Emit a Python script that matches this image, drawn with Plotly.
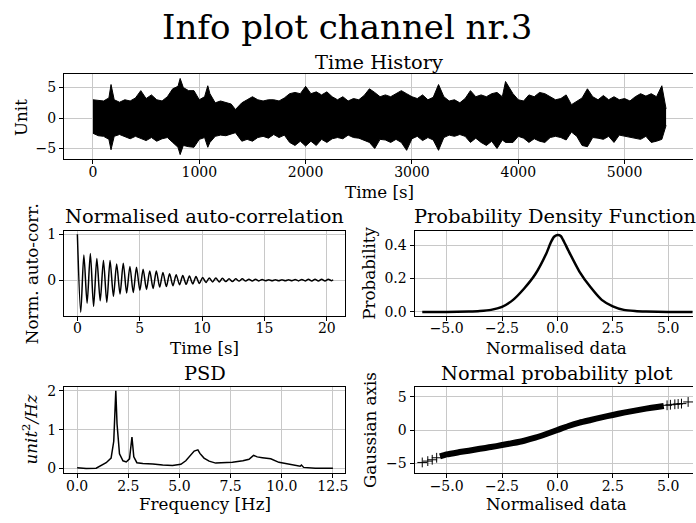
import plotly.graph_objects as go

W, H = 696, 523
FONT = "DejaVu Serif"

# ---------------- data ----------------
# Time history: envelope of the dense signal
th_t = [0, 50, 100, 150, 170, 200, 250, 300, 350, 400, 450, 500, 550, 600, 650, 700, 750, 800, 820, 850,
        900, 950, 1000, 1050, 1080, 1100, 1150, 1200, 1250, 1300, 1340, 1400, 1450, 1500, 1550, 1600, 1650,
        1700, 1750, 1800, 1850, 1900, 1950, 2000, 2050, 2100, 2150, 2200, 2250, 2300, 2350, 2400, 2450,
        2500, 2550, 2600, 2650, 2700, 2750, 2800, 2850, 2900, 2950, 3000, 3050, 3100, 3150, 3200, 3250,
        3300, 3350, 3400, 3450, 3500, 3550, 3600, 3650, 3700, 3750, 3800, 3850, 3880, 3950, 4000, 4050,
        4100, 4150, 4200, 4250, 4300, 4350, 4400, 4450, 4500, 4550, 4600, 4650, 4700, 4750, 4800, 4850,
        4900, 4950, 5000, 5050, 5100, 5150, 5200, 5250, 5300, 5350, 5390]
th_hi = [3.0, 2.9, 2.8, 3.3, 5.5, 3.0, 2.6, 3.0, 2.8, 3.3, 4.5, 3.2, 3.8, 3.0, 2.8, 3.5, 4.8, 5.2, 6.5, 5.0,
         4.5, 4.5, 3.0, 3.5, 5.3, 4.0, 2.5, 2.8, 2.5, 2.3, 1.4, 2.5, 3.0, 3.5, 3.0, 2.8, 3.0,
         3.0, 2.8, 3.3, 4.0, 4.2, 4.0, 5.2, 4.0, 4.3, 3.8, 4.3, 3.5, 3.0, 3.5, 2.8, 3.2,
         3.0, 3.7, 4.8, 4.2, 3.5, 3.8, 3.5, 4.0, 4.5, 4.0, 3.5, 3.2, 3.8, 3.0, 3.4, 5.5,
         3.5, 2.8, 3.0, 2.5, 3.2, 4.5, 3.5, 3.8, 3.5, 4.0, 4.2, 3.5, 6.0, 4.0, 3.0, 2.8,
         3.8, 3.5, 4.2, 4.0, 3.5, 3.0, 3.2, 3.8, 2.2, 2.8, 3.3, 4.8, 3.5, 3.0, 3.7, 3.0,
         3.5, 3.0, 3.2, 2.8, 3.5, 4.0, 3.6, 4.0, 3.5, 5.3, 1.5]
th_lo = [-2.5, -2.9, -3.0, -3.5, -5.2, -3.0, -2.7, -3.0, -3.4, -3.0, -3.3, -3.7, -3.2, -3.8, -3.4, -3.2, -4.0, -4.8, -6.0, -4.5,
         -4.7, -4.8, -3.5, -3.2, -4.8, -4.0, -3.0, -2.8, -2.9, -2.6, -2.4, -3.8, -3.5, -3.8, -3.2, -3.0, -3.3,
         -2.7, -3.2, -2.8, -4.0, -4.5, -3.8, -4.6, -3.8, -4.5, -3.5, -4.0, -3.4, -3.2, -3.4, -2.8, -3.2,
         -3.3, -3.6, -4.0, -5.0, -3.5, -3.6, -4.0, -3.5, -4.0, -5.3, -3.4, -3.0, -3.7, -3.2, -3.6, -5.3,
         -3.2, -2.8, -3.0, -2.7, -3.0, -4.0, -3.3, -4.0, -4.5, -3.8, -5.0, -3.6, -4.0, -4.0, -3.0, -3.3,
         -4.0, -3.4, -3.8, -4.0, -3.2, -3.0, -3.2, -3.6, -2.3, -3.0, -4.5, -4.7, -3.2, -3.3, -3.5, -3.0,
         -4.0, -2.8, -3.0, -3.2, -3.4, -3.5, -3.0, -4.0, -3.8, -3.5, -1.2]

# Normalised auto-correlation (extrema)
acf_t = [0, 0.27, 0.52, 0.78, 1.04, 1.30, 1.56, 1.83, 2.09, 2.36, 2.62, 2.89, 3.15, 3.42, 3.68, 3.95,
         4.21, 4.48, 4.74, 5.01, 5.27, 5.54, 5.80, 6.07, 6.33, 6.60, 6.86, 7.13, 7.39, 7.66, 7.92, 8.19,
         8.45, 8.72, 8.98, 9.25, 9.51, 9.78, 10.04, 10.31, 10.57, 10.84, 11.10, 11.37, 11.63, 11.90, 12.16,
         12.43, 12.69, 12.96, 13.22, 13.49, 13.75, 14.02, 14.28, 14.55, 14.81, 15.08, 15.34, 15.61, 15.87,
         16.14, 16.40, 16.67, 16.93, 17.20, 17.46, 17.73, 17.99, 18.26, 18.52, 18.79, 19.05, 19.32, 19.58,
         19.85, 20.11, 20.38, 20.50]
acf_v = [1.0, -0.70, 0.55, -0.50, 0.58, -0.57, 0.47, -0.45, 0.43, -0.48, 0.43, -0.35, 0.35, -0.30, 0.37, -0.28,
         0.30, -0.27, 0.28, -0.22, 0.24, -0.20, 0.20, -0.18, 0.20, -0.15, 0.17, -0.14, 0.14, -0.12, 0.12, -0.10,
         0.10, -0.09, 0.09, -0.08, 0.08, -0.07, 0.06, -0.05, 0.05, -0.04, 0.05, -0.04, 0.04, -0.03, 0.03,
         -0.03, 0.03, -0.02, 0.03, -0.02, 0.02, -0.02, 0.02, -0.015, 0.015, -0.01, 0.01, -0.01, 0.01,
         -0.01, 0.01, -0.01, 0.01, -0.01, 0.015, -0.015, 0.015, -0.015, 0.02, -0.02, 0.02, -0.02, 0.02,
         -0.015, 0.02, -0.01, 0.01]

# Probability density function
pdf_x = [-6.1, -5.0, -4.0, -3.5, -3.0, -2.5, -2.0, -1.5, -1.0, -0.5, -0.3, -0.15, 0.0, 0.15, 0.3, 0.5,
         1.0, 1.5, 2.0, 2.5, 3.0, 3.5, 4.0, 5.0, 6.1]
pdf_y = [0.0, 0.0, 0.002, 0.005, 0.012, 0.03, 0.072, 0.14, 0.225, 0.35, 0.415, 0.45, 0.46, 0.455, 0.42, 0.366,
         0.24, 0.147, 0.072, 0.033, 0.012, 0.005, 0.002, 0.0, 0.0]

# PSD
psd_f = [0.0, 0.2, 0.44, 0.93, 1.1, 1.42, 1.66, 1.79, 1.89, 1.95, 2.07, 2.24, 2.4, 2.56, 2.68, 2.77,
         2.92, 3.21, 3.7, 4.18, 4.66, 5.07, 5.31, 5.56, 5.72, 5.9, 6.0, 6.2, 6.45, 6.77, 7.59, 8.1, 8.4,
         8.62, 8.8, 9.05, 9.46, 9.86, 10.34, 10.67, 10.9, 10.96, 11.07, 11.64, 12.5]
psd_v = [0.02, 0.01, 0.0, 0.01, 0.06, 0.15, 0.27, 0.7, 2.0, 1.15, 0.38, 0.2, 0.17, 0.25, 0.81, 0.3,
         0.15, 0.13, 0.12, 0.09, 0.08, 0.11, 0.2, 0.37, 0.45, 0.48, 0.39, 0.27, 0.19, 0.14, 0.16, 0.2, 0.24,
         0.34, 0.3, 0.28, 0.25, 0.16, 0.12, 0.08, 0.06, 0.09, 0.03, 0.01, 0.01]

# Normal probability plot
npp_x = [-5.3, -5.0, -4.5, -4.0, -3.5, -3.0, -2.5, -2.0, -1.5, -1.0, -0.5, 0.0, 0.5, 1.0, 1.5, 2.0,
         2.5, 3.0, 3.5, 4.0, 4.5, 4.8]
npp_y = [-3.95, -3.65, -3.35, -3.1, -2.8, -2.55, -2.25, -1.95, -1.6, -1.15, -0.6, 0.0, 0.6, 1.1, 1.5, 1.9,
         2.25, 2.6, 2.9, 3.2, 3.45, 3.6]
npp_tail_x = [-6.1, -5.85, -5.65, -5.45, 4.95, 5.1, 5.3, 5.45, 5.6, 5.9]
npp_tail_y = [-4.85, -4.65, -4.45, -4.15, 3.7, 3.78, 3.85, 3.9, 3.95, 4.2]

# tick labels
th_ticks = [0, 1000, 2000, 3000, 4000, 5000]
th_ticktext = ["0", "1000", "2000", "3000", "4000", "5000"]
th_yticks = [-5, 0, 5]
th_yticktext = ["−5", "0", "5"]
acf_xticks = [0, 5, 10, 15, 20]
acf_yticks = [0, 1]
nd_ticks = [-5.0, -2.5, 0.0, 2.5, 5.0]
nd_ticktext = ["−5.0", "−2.5", "0.0", "2.5", "5.0"]
pdf_yticks = [0.0, 0.2, 0.4]
pdf_yticktext = ["0.0", "0.2", "0.4"]
psd_xticks = [0.0, 2.5, 5.0, 7.5, 10.0, 12.5]
psd_xticktext = ["0.0", "2.5", "5.0", "7.5", "10.0", "12.5"]
psd_yticks = [0, 1, 2]
npp_yticks = [-5, 0, 5]
npp_yticktext = ["−5", "0", "5"]

# ---------------- figure ----------------
fig = go.Figure()

def px(x):
    return x / W

def py(y):
    return 1 - y / H

K = "black"
fig.add_trace(go.Scatter(x=th_t, y=th_lo, mode="lines", line=dict(color=K, width=1),
                         xaxis="x", yaxis="y", showlegend=False))
fig.add_trace(go.Scatter(x=th_t, y=th_hi, mode="lines", line=dict(color=K, width=1), fill="tonexty",
                         fillcolor=K, xaxis="x", yaxis="y", showlegend=False))
fig.add_trace(go.Scatter(x=acf_t, y=acf_v, mode="lines", line=dict(color=K, width=1.5, shape="spline", smoothing=0.8),
                         xaxis="x2", yaxis="y2", showlegend=False))
fig.add_trace(go.Scatter(x=pdf_x, y=pdf_y, mode="lines", line=dict(color=K, width=2.5, shape="spline", smoothing=0.6),
                         xaxis="x3", yaxis="y3", showlegend=False))
fig.add_trace(go.Scatter(x=psd_f, y=psd_v, mode="lines", line=dict(color=K, width=1.5),
                         xaxis="x4", yaxis="y4", showlegend=False))
fig.add_trace(go.Scatter(x=npp_x, y=npp_y, mode="lines", line=dict(color=K, width=6, shape="spline", smoothing=0.6),
                         xaxis="x5", yaxis="y5", showlegend=False))
fig.add_trace(go.Scatter(x=npp_tail_x, y=npp_tail_y, mode="markers",
                         marker=dict(symbol="cross-thin", size=7, line=dict(color=K, width=1)),
                         xaxis="x5", yaxis="y5", showlegend=False))

tickfont = dict(family=FONT, size=14, color="black")
common = dict(showgrid=True, gridcolor="#c8c8c8", gridwidth=1, zeroline=False, showline=True,
              linecolor="black", linewidth=1, ticks="outside", ticklen=4, tickcolor="black",
              tickfont=tickfont, fixedrange=True)

# pixel frames
frames = {
    "": dict(x0=64.3, x1=696, y0=70.7, y1=157),
    "2": dict(x0=64.3, x1=346.7, y0=230, y1=316),
    "3": dict(x0=416.3, x1=696, y0=230, y1=316),
    "4": dict(x0=64.3, x1=346.7, y0=389, y1=476),
    "5": dict(x0=416.3, x1=696, y0=389, y1=476),
}
ranges = {
    "": ([-272, 5643], [-6.77, 7.15]),
    "2": ([-1.07, 21.47], [-0.77, 1.07]),
    "3": ([-6.45, 6.12], [-0.022, 0.484]),
    "4": ([-0.64, 13.1], [-0.109, 2.086]),
    "5": ([-6.45, 6.12], [-6.4, 6.39]),
}
xticks = {
    "": (th_ticks, th_ticktext),
    "2": (acf_xticks, [str(v) for v in acf_xticks]),
    "3": (nd_ticks, nd_ticktext),
    "4": (psd_xticks, psd_xticktext),
    "5": (nd_ticks, nd_ticktext),
}
yticks = {
    "": (th_yticks, th_yticktext),
    "2": (acf_yticks, [str(v) for v in acf_yticks]),
    "3": (pdf_yticks, pdf_yticktext),
    "4": (psd_yticks, [str(v) for v in psd_yticks]),
    "5": (npp_yticks, npp_yticktext),
}
right_cut = {"": True, "2": False, "3": True, "4": False, "5": True}

layout = dict(width=W, height=H, margin=dict(l=0, r=0, t=0, b=0), plot_bgcolor="white",
              paper_bgcolor="white", showlegend=False, font=dict(family=FONT, color="black"))
for k, f in frames.items():
    xr, yr = ranges[k]
    xa = dict(common, domain=[px(f["x0"]), px(f["x1"])], range=xr, anchor="y" + k,
              tickmode="array", tickvals=xticks[k][0], ticktext=xticks[k][1], mirror=True,
              ticklabelstandoff=-4)
    ya = dict(common, domain=[py(f["y1"]), py(f["y0"])], range=yr, anchor="x" + k,
              tickmode="array", tickvals=yticks[k][0], ticktext=yticks[k][1],
              mirror=not right_cut[k])
    layout["xaxis" + k] = xa
    layout["yaxis" + k] = ya
fig.update_layout(**layout)

def ann(text, x, y, size, angle=0):
    fig.add_annotation(text=text, x=px(x), y=py(y), xref="paper", yref="paper", showarrow=False,
                       xanchor="center", yanchor="middle", textangle=angle,
                       font=dict(family=FONT, size=size, color="black"))

TS, LS = 19.4, 16.7
ann("Info plot channel nr.3", 348, 22, 34)
ann("Time History", 381, 58, TS)
ann("Time [s]", 381, 190, LS)
ann("Unit", 21, 114, LS, -90)
ann("Normalised auto-correlation", 205.5, 215, TS)
ann("Time [s]", 205.5, 349, LS)
ann("Norm. auto-corr.", 32, 273, LS, -90)
ann("Probability Density Function", 557, 215, TS)
ann("Normalised data", 559, 349, LS)
ann("Probability", 371, 273, LS, -90)
ann("PSD", 205.5, 375, TS)
ann("Frequency [Hz]", 205.5, 508, LS)
ann("<i>unit</i><sup>2</sup><i>/Hz</i>", 30, 432, LS, -90)
ann("Normal probability plot", 559, 375, TS)
ann("Normalised data", 559, 508, LS)
ann("Gaussian axis", 371, 432, LS, -90)

fig.write_html("out.html", config={"displayModeBar": False},
               post_script="document.body.style.margin='0';document.body.style.overflow='hidden';")
